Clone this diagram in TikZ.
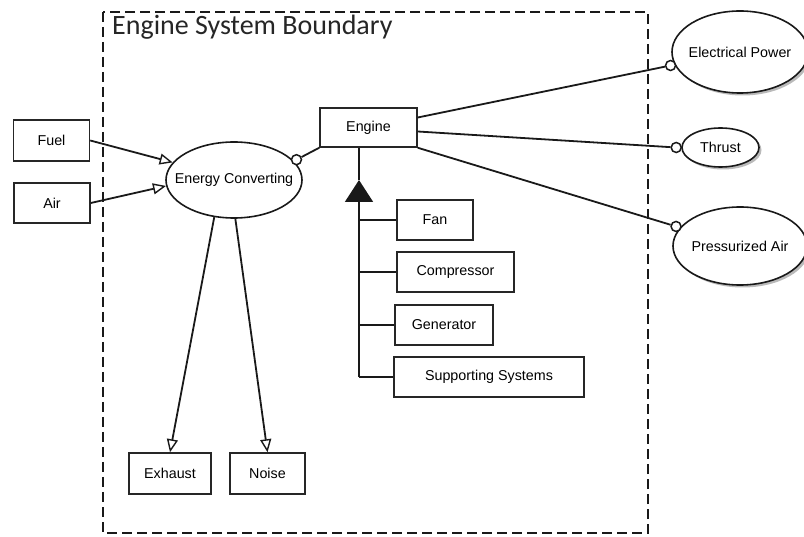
\documentclass[tikz,border=0pt]{standalone}
\usepackage{fontspec}
\setmainfont{Liberation Sans}
\newfontfamily\titlefont{Carlito}
\usetikzlibrary{arrows.meta,shapes.geometric,shadows,calc}

\begin{document}
\begin{tikzpicture}[x=1pt,y=-1pt,
  every node/.style={font=\fontsize{14.3}{17}\selectfont, text=black, inner sep=0pt},
  blockbox/.style={draw=black!85, line width=1.5pt, rectangle},
  usecase/.style={draw=black!90, line width=1.6pt, ellipse, fill=white, inner xsep=-15pt},
  shadowed/.style={drop shadow={shadow xshift=2.5pt, shadow yshift=-2.5pt, fill=black!45, opacity=0.6}},
  link/.style={draw=black!90, line width=1.8pt},
  flow/.style={link, -{Triangle[open, length=13pt, width=11pt, line width=1.4pt]}},
  lolly/.style={circle, draw=black!90, line width=1.5pt, fill=white, minimum size=10pt},
  boundary/.style={draw=black!90, line width=2.2pt, dash pattern=on 10pt off 5pt}]

\useasboundingbox (0,0) rectangle (804,537);

% system boundary
\draw[boundary] (103,12) rectangle (648,533);
\node[anchor=base west, font=\titlefont\fontsize{28}{32}\selectfont, text=black!85] (title) at (112,35) {Engine System Boundary};

% inputs
\node[blockbox, minimum width=76pt, minimum height=41pt] (fuel) at (51.5,140.5) {Fuel};
\node[blockbox, minimum width=76pt, minimum height=40pt] (air) at (52,203) {Air};

% central use case and engine
\node[usecase, minimum width=136pt, minimum height=76pt] (ec) at (234,180) {Energy Converting};
\node[blockbox, minimum width=97pt, minimum height=39pt] (engine) at (368.5,127.5) {Engine};

% engine parts
\node[blockbox, minimum width=76pt, minimum height=40pt] (fan) at (435,220) {Fan};
\node[blockbox, minimum width=117pt, minimum height=40pt] (comp) at (455.5,272) {Compressor};
\node[blockbox, minimum width=98pt, minimum height=40pt] (gen) at (444,325) {Generator};
\node[blockbox, minimum width=190pt, minimum height=40pt] (sup) at (489,377) {Supporting Systems};

% by-products
\node[blockbox, minimum width=82pt, minimum height=41pt] (exh) at (170,473.5) {Exhaust};
\node[blockbox, minimum width=75pt, minimum height=41pt] (noise) at (267.5,473.5) {Noise};

% outputs
\node[usecase, shadowed, minimum width=136pt, minimum height=82pt] (ep) at (740,52) {Electrical Power};
\node[usecase, shadowed, minimum width=77pt, minimum height=39pt] (thrust) at (720.5,147.5) {Thrust};
\node[usecase, shadowed, minimum width=134pt, minimum height=78pt] (pa) at (740,246) {Pressurized Air};

% lollipop ends
\node[lolly] (c0) at ($(ec.18)!-3pt!(ec.center)$) {};
\node[lolly] (c1) at ($(ep.191)!-4pt!(ep.center)$) {};
\node[lolly] (c2) at ($(thrust.180)!-5pt!(thrust.center)$) {};
\node[lolly] (c3) at ($(pa.163)!-4pt!(pa.center)$) {};

% flows into and out of energy converting
\draw[flow] (fuel.east) -- (ec.164);
\draw[flow] (air.east) -- (ec.185);
\draw[flow] (ec.242) -- (exh.north);
\draw[flow] (ec.272) -- (noise.north);

% interfaces
\draw[link] (engine.south west) -- (c0);
\draw[link] ($(engine.east)+(0,-10)$) -- (c1);
\draw[link] ($(engine.east)+(0,4)$) -- (c2);
\draw[link] (engine.south east) -- (c3);

% generalization tree
\coordinate (tip) at (359,180);
\coordinate (stem) at (tip |- sup.west);
\draw[link] (tip) -- (tip |- engine.south);
\draw[link, -{Triangle[length=22pt, width=28pt]}] (stem) -- (tip);
\draw[link] (tip |- fan.west) -- (fan.west);
\draw[link] (tip |- comp.west) -- (comp.west);
\draw[link] (tip |- gen.west) -- (gen.west);
\draw[link] (stem) -- (sup.west);

\end{tikzpicture}
\end{document}
